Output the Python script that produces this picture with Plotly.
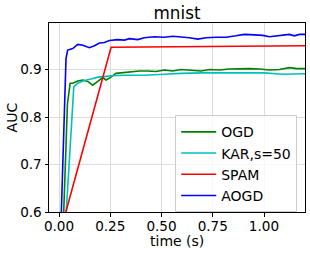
import plotly.graph_objects as go

# Data
t_ogd = [0.010, 0.041, 0.054, 0.067, 0.091, 0.116, 0.140, 0.164, 0.189, 0.213, 0.229, 0.246,
         0.278, 0.319, 0.351, 0.392, 0.433, 0.473, 0.514, 0.555, 0.595, 0.652, 0.693, 0.734,
         0.782, 0.831, 0.880, 0.929, 0.978, 1.026, 1.075, 1.124, 1.160, 1.200]
v_ogd = [0.440, 0.828, 0.871, 0.871, 0.876, 0.878, 0.875, 0.867, 0.875, 0.883, 0.878, 0.882,
         0.892, 0.894, 0.895, 0.897, 0.897, 0.896, 0.899, 0.897, 0.900, 0.898, 0.897, 0.900,
         0.899, 0.901, 0.902, 0.902, 0.901, 0.899, 0.900, 0.904, 0.902, 0.902]

t_kar = [0.010, 0.072, 0.091, 0.124, 0.156, 0.189, 0.221, 0.254, 0.319, 0.416, 0.514, 0.595,
         0.701, 0.815, 0.929, 1.000, 1.091, 1.200]
v_kar = [0.420, 0.864, 0.871, 0.877, 0.880, 0.884, 0.885, 0.887, 0.888, 0.888, 0.890, 0.892,
         0.893, 0.893, 0.894, 0.893, 0.890, 0.891]

t_spam = [0.000, 0.254, 1.200]
v_spam = [0.548, 0.947, 0.950]

t_aogd = [0.000, 0.034, 0.042, 0.067, 0.091, 0.116, 0.148, 0.173, 0.197, 0.221, 0.246, 0.286,
          0.319, 0.343, 0.384, 0.416, 0.465, 0.514, 0.555, 0.603, 0.636, 0.677, 0.717, 0.766,
          0.815, 0.863, 0.904, 0.953, 0.994, 1.026, 1.075, 1.124, 1.148, 1.173, 1.200]
v_aogd = [0.440, 0.923, 0.941, 0.944, 0.953, 0.951, 0.946, 0.950, 0.956, 0.957, 0.961, 0.963,
          0.962, 0.965, 0.963, 0.967, 0.969, 0.968, 0.970, 0.969, 0.967, 0.964, 0.967, 0.968,
          0.968, 0.971, 0.974, 0.973, 0.972, 0.969, 0.971, 0.974, 0.971, 0.974, 0.974]

names = ["OGD", "KAR,s=50", "SPAM", "AOGD"]
colors = ["#008000", "#00bfbf", "#ff0000", "#0000ff"]
series = [(t_ogd, v_ogd), (t_kar, v_kar), (t_spam, v_spam), (t_aogd, v_aogd)]

x_ticks = [0.0, 0.25, 0.5, 0.75, 1.0]
x_tick_labels = ["0.00", "0.25", "0.50", "0.75", "1.00"]
y_ticks = [0.6, 0.7, 0.8, 0.9]
y_tick_labels = ["0.6", "0.7", "0.8", "0.9"]

FONT = "DejaVu Sans"

fig = go.Figure()
for (t, v), n, c in zip(series, names, colors):
    fig.add_trace(go.Scatter(x=t, y=v, mode="lines", name=n,
                             line=dict(color=c, width=1.6)))

axis_common = dict(
    showline=True, linecolor="black", linewidth=1, mirror=True,
    ticks="outside", ticklen=3.5, tickcolor="black", tickwidth=1,
    showgrid=True, gridcolor="#dcdcdc", gridwidth=1, zeroline=False,
    tickfont=dict(family=FONT, size=13.6, color="black"),
    automargin=False,
)

fig.update_layout(
    width=310, height=253,
    margin=dict(l=49, r=5, t=23, b=41, autoexpand=False),
    paper_bgcolor="white", plot_bgcolor="white",
    font=dict(family=FONT, color="black"),
    title=dict(text="mnist", x=0.571, xanchor="center", xref="container",
               y=1 - 12.7 / 253, yanchor="middle", yref="container",
               font=dict(family=FONT, size=16.8, color="black")),
    xaxis=dict(range=[-0.049, 1.2], tickvals=x_ticks, ticktext=x_tick_labels,
               ticklabelstandoff=-2, **axis_common),
    yaxis=dict(range=[0.6, 0.998], tickvals=y_ticks, ticktext=y_tick_labels, **axis_common),
    legend=dict(x=0.493, y=0.512, xanchor="left", yanchor="top", itemwidth=35,
                bgcolor="rgba(255,255,255,0.8)", bordercolor="#cccccc", borderwidth=1,
                font=dict(family=FONT, size=14, color="black")),
    showlegend=True,
    annotations=[
        dict(text="time (s)", xref="paper", yref="paper", x=0.5, y=-0.155,
             xanchor="center", yanchor="middle", showarrow=False,
             font=dict(family=FONT, size=14, color="black")),
        dict(text="AUC", xref="paper", yref="paper", x=-0.145, y=0.5,
             xanchor="center", yanchor="middle", textangle=-90, showarrow=False,
             font=dict(family=FONT, size=14, color="black")),
    ],
)

fig.write_html("out.html",
               config={"displayModeBar": False},
               post_script="document.body.style.margin='0';document.body.style.overflow='hidden';")
